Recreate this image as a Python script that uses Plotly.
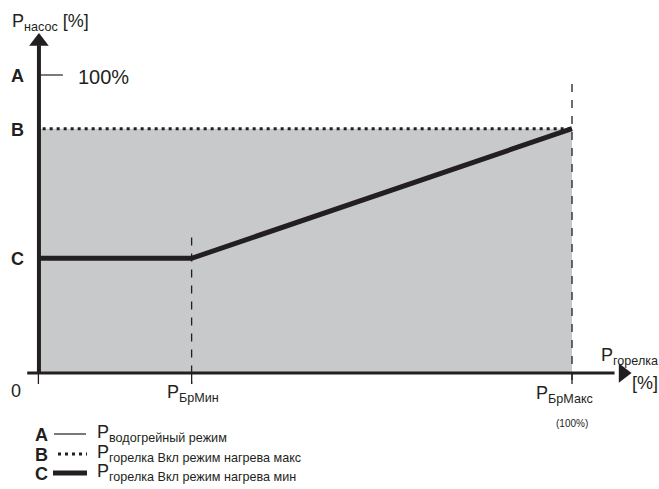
import plotly.graph_objects as go

# ---- data (schematic values, % of burner power / % of pump power) ----
p_br_min = 28.5                   # P_БрМин position on burner axis
p_br_max = 100                    # P_БрМакс (100%)
pump_A = 100                      # A: водогрейный режим
pump_B = 82                       # B: горелка Вкл режим нагрева макс
pump_C = 38.5                     # C: горелка Вкл режим нагрева мин
curve_C_x = [0, p_br_min, p_br_max]
curve_C_y = [pump_C, pump_C, pump_B]
level_labels = ["A", "B", "C"]
level_values = [pump_A, pump_B, pump_C]

W, H = 659, 489
X0PX, XSCALE = 40, 5.32
Y0PX, YSCALE = 373, 2.98
xr = [(0 - X0PX) / XSCALE, (W - X0PX) / XSCALE]
yr = [(Y0PX - H) / YSCALE, (Y0PX - 0) / YSCALE]

INK = "#231f20"
GRAY = "#c8c9cb"
FONT = "Liberation Sans, Arial, sans-serif"

fig = go.Figure()

# gray region
fig.add_trace(go.Scatter(
    x=[0, p_br_max, p_br_max, 0, 0], y=[0, 0, pump_B, pump_B, 0],
    fill="toself", fillcolor=GRAY, line=dict(width=0), mode="lines",
    hoverinfo="skip"))

# dashed verticals
for xv, ytop in [(p_br_min, 45.5), (p_br_max, 97)]:
    fig.add_trace(go.Scatter(x=[xv, xv], y=[ytop, -3.6], mode="lines",
                             line=dict(color=INK, width=1.3, dash="8px,8px"),
                             hoverinfo="skip"))
# solid ticks below axis at min/max/origin
for xv in [-0.3, p_br_min, p_br_max]:
    fig.add_trace(go.Scatter(x=[xv, xv], y=[0, -3.7], mode="lines",
                             line=dict(color=INK, width=1.3), hoverinfo="skip"))

# B dotted line
fig.add_trace(go.Scatter(x=[0.5, p_br_max], y=[pump_B, pump_B], mode="lines",
                         line=dict(color=INK, width=3, dash="3px,4px"),
                         hoverinfo="skip"))
# C thick curve
fig.add_trace(go.Scatter(x=curve_C_x, y=curve_C_y, mode="lines",
                         line=dict(color=INK, width=5), hoverinfo="skip"))
# A tick
fig.add_trace(go.Scatter(x=[0, 4.3], y=[pump_A, pump_A], mode="lines",
                         line=dict(color=INK, width=1.2), hoverinfo="skip"))

# axes lines
fig.add_trace(go.Scatter(x=[-0.2, -0.2], y=[0, 110], mode="lines",
                         line=dict(color=INK, width=4), hoverinfo="skip"))
fig.add_trace(go.Scatter(x=[-2.4, 108], y=[0, 0], mode="lines",
                         line=dict(color=INK, width=3), hoverinfo="skip"))
# arrow heads
fig.add_trace(go.Scatter(x=[-0.2], y=[111.2], mode="markers",
                         marker=dict(symbol="triangle-up", size=17, color=INK),
                         hoverinfo="skip"))
fig.add_trace(go.Scatter(x=[109.6], y=[0], mode="markers",
                         marker=dict(symbol="triangle-right", size=17, color=INK),
                         hoverinfo="skip"))

ann = []
def px(xp, yp, text, size=18, anchor="left", bold=False, yanchor="middle"):
    if bold:
        text = "<b>" + text + "</b>"
    ann.append(dict(x=xp / W, y=1 - yp / H, xref="paper", yref="paper",
                    text=text, showarrow=False, xanchor=anchor, yanchor=yanchor,
                    font=dict(family=FONT, size=size, color=INK)))

px(10, 22, "P<sub>насос</sub> [%]", 18)
for lab, val in zip(level_labels, level_values):
    px(9, Y0PX - val * YSCALE + 1, lab, 18, bold=True)
px(76, 77, "100%", 20)
px(9, 391, "0", 18)
px(165, 393, "P<sub>БрМин</sub>", 18)
px(534, 394, "P<sub>БрМакс</sub>", 18)
px(554, 423, "(100%)", 10)
px(599, 356, "P<sub>горелка</sub>", 18)
px(630, 383, "[%]", 18)

# legend-like key
leg_text = ["P<sub>водогрейный режим</sub>",
            "P<sub>горелка Вкл режим нагрева макс</sub>",
            "P<sub>горелка Вкл режим нагрева мин</sub>"]
leg_y = [435, 455, 474]
for lab, t, yy in zip(level_labels, leg_text, leg_y):
    px(33, yy, lab, 18, bold=True)
    px(95, yy - 2, t, 18)

fig.add_shape(type="line", xref="paper", yref="paper",
              x0=54 / W, x1=86 / W, y0=1 - 434 / H, y1=1 - 434 / H,
              line=dict(color=INK, width=1.2))
fig.add_shape(type="line", xref="paper", yref="paper",
              x0=58 / W, x1=87 / W, y0=1 - 454 / H, y1=1 - 454 / H,
              line=dict(color=INK, width=3, dash="3px,4px"))
fig.add_shape(type="line", xref="paper", yref="paper",
              x0=53 / W, x1=87 / W, y0=1 - 473 / H, y1=1 - 473 / H,
              line=dict(color=INK, width=5))

fig.update_layout(
    width=W, height=H, margin=dict(l=0, r=0, t=0, b=0),
    paper_bgcolor="white", plot_bgcolor="white", showlegend=False,
    xaxis=dict(range=xr, visible=False, fixedrange=True),
    yaxis=dict(range=yr, visible=False, fixedrange=True),
    annotations=ann,
)
fig.write_html("out.html", config={"displayModeBar": False},
               post_script="document.body.style.margin='0';"
                           "document.body.style.overflow='hidden';")
